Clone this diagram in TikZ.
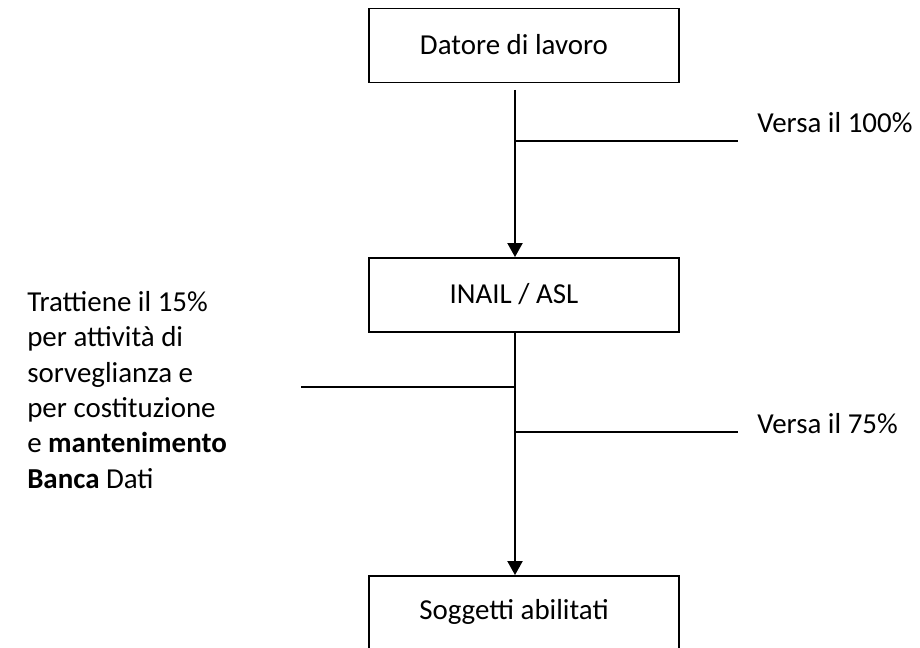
\documentclass[tikz,border=0pt]{standalone}
\usepackage{fontspec}
\setmainfont{Carlito}
\usetikzlibrary{arrows.meta}
\begin{document}
\begin{tikzpicture}[x=0.75pt,y=-0.75pt,
  boxshape/.style={draw, line width=1.4pt, minimum width=232.5pt, minimum height=55.5pt, inner sep=0pt},
  txt/.style={inner sep=0pt, font=\fontsize{21.7pt}{26.5pt}\selectfont},
  conn/.style={line width=1.5pt},
  arrowconn/.style={line width=1.5pt, -{Triangle[width=11.25pt,length=10.5pt]}}]
\clip (0,0) rectangle (920,648);
\useasboundingbox (0,0) rectangle (920,648);
% boxes
\node[boxshape] (box1) at (524,45.5) {};
\node[boxshape] (box2) at (524,295) {};
\node[boxshape] (box3) at (524,613) {};
\node[txt] (t1) at (514,45) {Datore di lavoro};
\node[txt] (t2) at (514,294) {INAIL / ASL};
\node[txt] (t3) at (514,612) {Soggetti abilitati};
% main flow
\coordinate (s1) at (515,90);
\draw[arrowconn] (s1) -- (s1 |- box2.north);
\draw[arrowconn] (s1 |- box2.south) -- (s1 |- box3.north);
% branches
\coordinate (b1) at (515,141);
\coordinate (e1) at (738,141);
\draw[conn] (b1) -- (e1);
\node[txt, anchor=base west] (l1) at (757,133) {Versa il 100\%};
\coordinate (b2) at (515,387);
\coordinate (e2) at (301,387);
\draw[conn] (b2) -- (e2);
\coordinate (b3) at (515,432);
\coordinate (e3) at (738,432);
\draw[conn] (b3) -- (e3);
\node[txt, anchor=base west] (l3) at (757,433) {Versa il 75\%};
\node[txt, anchor=north west, align=left] (l2) at (27,291) {Trattiene il 15\%\\per attività di\\sorveglianza e\\per costituzione\\e \textbf{mantenimento}\\\textbf{Banca} Dati};
\end{tikzpicture}
\end{document}
